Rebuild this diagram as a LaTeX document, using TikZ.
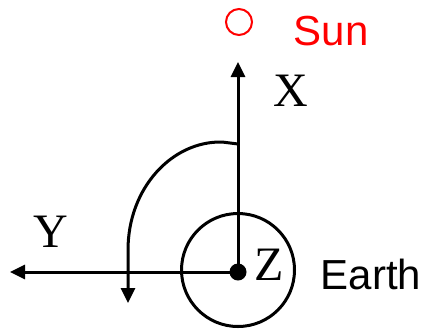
\documentclass[tikz,border=0pt]{standalone}
\usepackage{fontspec}
\setmainfont{Liberation Serif}
\newfontfamily\labelsans{Liberation Sans}
\usetikzlibrary{arrows.meta}
\begin{document}
\begin{tikzpicture}[x = 0.5pt, y = -0.5pt, line width = 1.5pt,
  axis/.style = {-{Triangle[length = 7.5pt, width = 7pt]}},
  axislabel/.style = {inner sep = 0, font = \fontsize{24}{24}\selectfont},
  bodylabel/.style = {inner sep = 0, font = \labelsans\fontsize{21}{21}\selectfont}]
\useasboundingbox (0,0) rectangle (427,328);
\draw (238,270) circle [radius = 56.5];
\node[circle, fill, inner sep = 0, minimum size = 8.5pt] at (238,272) (o) {};
\coordinate (xtip) at (238,62);
\coordinate (ytip) at (10,272);
\draw[axis] (o.center) -- (xtip);
\draw[axis] (o.center) -- (ytip);
\coordinate (rs) at (238,144);
\coordinate (re) at (128,303);
\draw[axis] (rs) -- (222,142) .. controls (172,141) and (128,188) .. (128,250) -- (re);
\draw[red, line width = 1pt] (239,22) circle [radius = 13];
\node[axislabel] at (291,91) (xl) {X};
\node[axislabel] at (51,232) (yl) {Y};
\node[axislabel] at (269,265) (zl) {Z};
\node[bodylabel, text = red] at (331,31) (sun) {Sun};
\node[bodylabel] at (371,274) (earth) {Earth};
\end{tikzpicture}
\end{document}
